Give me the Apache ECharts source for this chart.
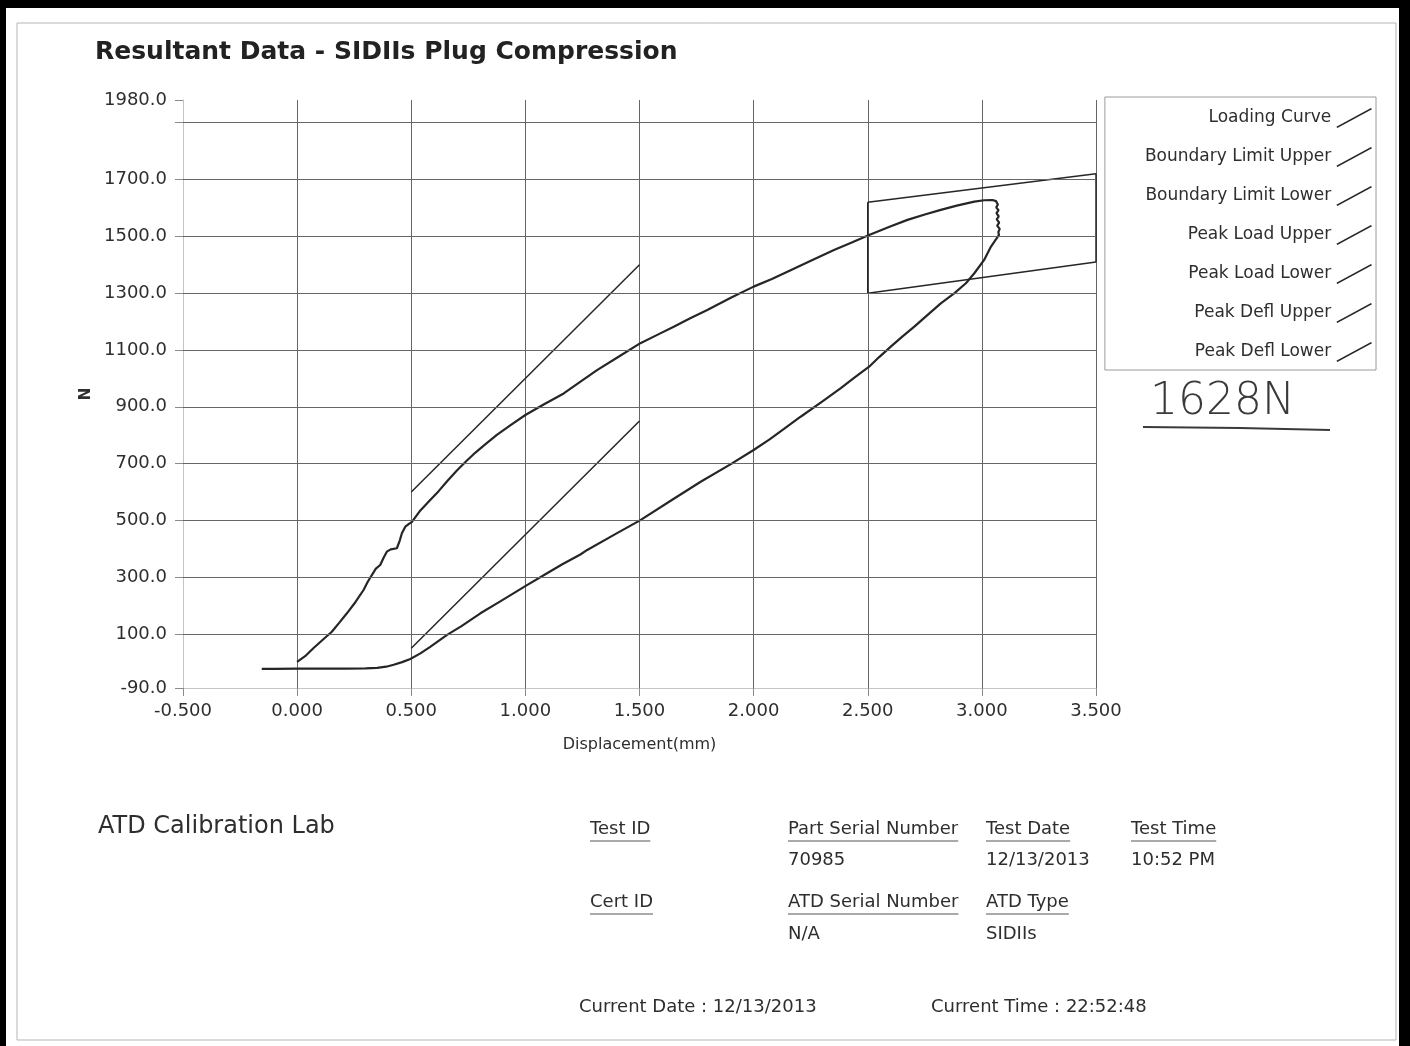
<!DOCTYPE html>
<html>
<head>
<meta charset="utf-8">
<script src="https://cdn.jsdelivr.net/npm/echarts@6/dist/echarts.min.js"></script>
<style>
  html, body { margin: 0; padding: 0; background: #fff; }
  #chart { width: 1410px; height: 1046px; }
</style>
</head>
<body>
<div id="chart"></div>
<script>
// Force (N) against displacement (mm): loading up to the peak, then unloading
const loadingCurve = [
  [-0.155, -23], [-0.100, -23], [0.000, -22], [0.100, -22], [0.218, -22], [0.300, -21],
  [0.350, -19], [0.390, -15], [0.423, -8], [0.460, 1], [0.496, 12], [0.540, 32],
  [0.583, 55], [0.620, 76], [0.657, 97], [0.720, 128], [0.803, 173], [0.890, 215],
  [1.007, 272], [1.095, 314], [1.160, 345], [1.241, 380], [1.271, 396], [1.390, 450],
  [1.504, 501], [1.640, 571], [1.768, 636], [1.900, 698], [2.000, 748], [2.070, 785],
  [2.133, 822], [2.206, 865], [2.300, 918], [2.382, 966], [2.440, 1002], [2.506, 1041],
  [2.550, 1075], [2.601, 1112], [2.650, 1146], [2.704, 1182], [2.760, 1222], [2.820, 1264],
  [2.880, 1300], [2.930, 1335], [2.967, 1370], [3.010, 1417], [3.040, 1464], [3.075, 1505],
  [3.072, 1515], [3.078, 1526], [3.067, 1538], [3.076, 1548], [3.065, 1560], [3.074, 1570],
  [3.064, 1582], [3.073, 1592], [3.063, 1602], [3.070, 1612], [3.062, 1624], [3.046, 1628],
  [3.010, 1627], [2.967, 1622], [2.890, 1608], [2.820, 1593], [2.750, 1577], [2.674, 1558],
  [2.590, 1532], [2.506, 1505], [2.430, 1478], [2.352, 1452], [2.260, 1418], [2.162, 1381],
  [2.080, 1350], [2.000, 1323], [1.900, 1284], [1.797, 1241], [1.720, 1211], [1.650, 1182],
  [1.580, 1154], [1.504, 1124], [1.410, 1077], [1.314, 1029], [1.240, 988], [1.168, 947],
  [1.080, 908], [1.000, 871], [0.940, 838], [0.875, 801], [0.820, 765], [0.780, 738],
  [0.744, 711], [0.700, 676], [0.657, 638], [0.620, 603], [0.583, 572], [0.540, 535],
  [0.503, 495], [0.490, 488], [0.474, 478], [0.459, 455], [0.450, 430], [0.437, 402],
  [0.410, 398], [0.393, 390], [0.380, 370], [0.364, 343], [0.345, 330], [0.328, 308],
  [0.310, 285], [0.291, 255], [0.255, 212], [0.218, 173], [0.185, 140], [0.152, 108],
  [0.110, 78], [0.071, 50], [0.035, 22], [0.000, 2]
];
const boundaryLimitUpper = [[0.5, 600], [1.5, 1400]];
const boundaryLimitLower = [[0.5, 50], [1.5, 850]];
const peakLoadUpper = [[2.5, 1620], [3.5, 1720]];
const peakLoadLower = [[2.5, 1300], [3.5, 1410]];
const peakDeflUpper = [[3.5, 1410], [3.5, 1720]];
const peakDeflLower = [[2.5, 1300], [2.5, 1620]];

const seriesNames = ['Loading Curve', 'Boundary Limit Upper', 'Boundary Limit Lower',
  'Peak Load Upper', 'Peak Load Lower', 'Peak Defl Upper', 'Peak Defl Lower'];
const yLabelValues = [-90, 100, 300, 500, 700, 900, 1100, 1300, 1500, 1700, 1980];
const yTickValues = [-90, 100, 300, 500, 700, 900, 1100, 1300, 1500, 1700, 1900, 1980];
const yGridValues = [100, 300, 500, 700, 900, 1100, 1300, 1500, 1700, 1900];

const peakNote = '1628N';
const labName = 'ATD Calibration Lab';
const infoHeaders = [
  ['Test ID', 590, 829], ['Part Serial Number', 788, 829], ['Test Date', 986, 829], ['Test Time', 1131, 829],
  ['Cert ID', 590, 902], ['ATD Serial Number', 788, 902], ['ATD Type', 986, 902]
];
const infoValues = [
  ['70985', 788, 860], ['12/13/2013', 986, 860], ['10:52 PM', 1131, 860],
  ['N/A', 788, 934], ['SIDIIs', 986, 934]
];
const footerLines = [
  ['Current Date : 12/13/2013', 579, 1007], ['Current Time : 22:52:48', 931, 1007]
];

const FONT = '"DejaVu Sans", Verdana, sans-serif';
const INK = '#2e2e2e';
const measureCtx = document.createElement('canvas').getContext('2d');
function textWidth(t, size) {
  measureCtx.font = size + 'px ' + FONT;
  return measureCtx.measureText(t).width;
}

const graphic = [
  // scanned-page frame
  { type: 'rect', shape: { x: 0, y: 0, width: 1410, height: 8 }, style: { fill: '#000' }, silent: true },
  { type: 'rect', shape: { x: 0, y: 0, width: 6, height: 1046 }, style: { fill: '#000' }, silent: true },
  { type: 'rect', shape: { x: 1399, y: 0, width: 11, height: 1046 }, style: { fill: '#000' }, silent: true },
  { type: 'rect', shape: { x: 17, y: 23, width: 1379, height: 1017 }, style: { fill: 'none', stroke: '#b5b5b5', lineWidth: 1 }, silent: true },
  // hand-written peak note
  { type: 'text', x: 1150, y: 403, style: { text: peakNote, font: '200 44px ' + FONT, fill: '#3a3a3a', verticalAlign: 'middle', align: 'left' } },
  { type: 'polyline', shape: { points: [[1143, 427], [1240, 428], [1330, 430]] }, style: { stroke: '#3a3a3a', lineWidth: 2, fill: 'none' } },
  { type: 'text', x: 98, y: 827, style: { text: labName, font: '24px ' + FONT, fill: INK, verticalAlign: 'middle', align: 'left' } }
];
infoHeaders.forEach(([t, x, y]) => {
  graphic.push({ type: 'text', x, y, style: { text: t, font: '18px ' + FONT, fill: INK, verticalAlign: 'middle', align: 'left' } });
  graphic.push({ type: 'line', shape: { x1: x, y1: y + 12, x2: x + textWidth(t, 18), y2: y + 12 }, style: { stroke: '#555', lineWidth: 1 } });
});
infoValues.concat(footerLines).forEach(([t, x, y]) => {
  graphic.push({ type: 'text', x, y, style: { text: t, font: '18px ' + FONT, fill: INK, verticalAlign: 'middle', align: 'left' } });
});

function lineSeries(name, data, width) {
  return {
    name, type: 'line', data, showSymbol: false, symbol: 'none', silent: true,
    lineStyle: { color: '#262626', width }, itemStyle: { color: '#262626' },
    z: 3, animation: false
  };
}

const chart = echarts.init(document.getElementById('chart'), null, { renderer: 'canvas' });
chart.setOption({
  animation: false,
  backgroundColor: '#fff',
  textStyle: { fontFamily: FONT },
  title: {
    text: 'Resultant Data - SIDIIs Plug Compression',
    left: 95, top: 40, padding: 0,
    textStyle: { fontFamily: FONT, fontWeight: 'bold', fontSize: 25, color: '#222' }
  },
  legend: {
    data: seriesNames,
    orient: 'vertical', align: 'right',
    right: 34, top: 97,
    padding: [11, 4, 8, 40],
    itemWidth: 36, itemHeight: 20, itemGap: 19,
    icon: 'path://M0,19 L35,0 L36,1.2 L1,20.2 Z',
    backgroundColor: '#fff', borderColor: '#9a9a9a', borderWidth: 1,
    textStyle: { fontFamily: FONT, fontSize: 17, color: INK },
    selectedMode: false
  },
  grid: { left: 183, right: 314, top: 100, bottom: 358 },
  xAxis: {
    type: 'value', min: -0.5, max: 3.5, interval: 0.5,
    name: 'Displacement(mm)', nameLocation: 'middle', nameGap: 49,
    nameTextStyle: { fontFamily: FONT, fontSize: 16, color: INK },
    axisLine: { show: true, onZero: false, lineStyle: { color: '#c4c4c4', width: 1 } },
    axisTick: { show: true, length: 8, lineStyle: { color: '#8a8a8a' } },
    axisLabel: { fontFamily: FONT, fontSize: 18, color: INK, margin: 14, formatter: v => v.toFixed(3) },
    splitLine: { show: true, lineStyle: { color: '#666', width: 1 } }
  },
  yAxis: {
    type: 'value', min: -90, max: 1980,
    name: 'N', nameLocation: 'middle', nameGap: 89, nameRotate: 90,
    nameTextStyle: { fontFamily: FONT, fontSize: 15, fontWeight: 'bold', color: INK },
    axisLine: { show: true, onZero: false, lineStyle: { color: '#c4c4c4', width: 1 } },
    axisTick: { show: true, length: 8, customValues: yTickValues, lineStyle: { color: '#8a8a8a' } },
    axisLabel: { fontFamily: FONT, fontSize: 18, color: INK, margin: 16, customValues: yLabelValues, formatter: v => v.toFixed(1) },
    splitLine: { show: false }
  },
  graphic,
  series: [
    {
      name: 'grid', type: 'line', data: [], silent: true, z: 1,
      markLine: {
        silent: true, symbol: ['none', 'none'], animation: false,
        label: { show: false },
        lineStyle: { color: '#666', width: 1, type: 'solid' },
        emphasis: { disabled: true },
        data: yGridValues.map(v => ({ yAxis: v }))
      }
    },
    lineSeries(seriesNames[0], loadingCurve, 2.2),
    lineSeries(seriesNames[1], boundaryLimitUpper, 1.5),
    lineSeries(seriesNames[2], boundaryLimitLower, 1.5),
    lineSeries(seriesNames[3], peakLoadUpper, 1.5),
    lineSeries(seriesNames[4], peakLoadLower, 1.5),
    lineSeries(seriesNames[5], peakDeflUpper, 1.5),
    lineSeries(seriesNames[6], peakDeflLower, 1.5)
  ]
});
</script>
</body>
</html>
